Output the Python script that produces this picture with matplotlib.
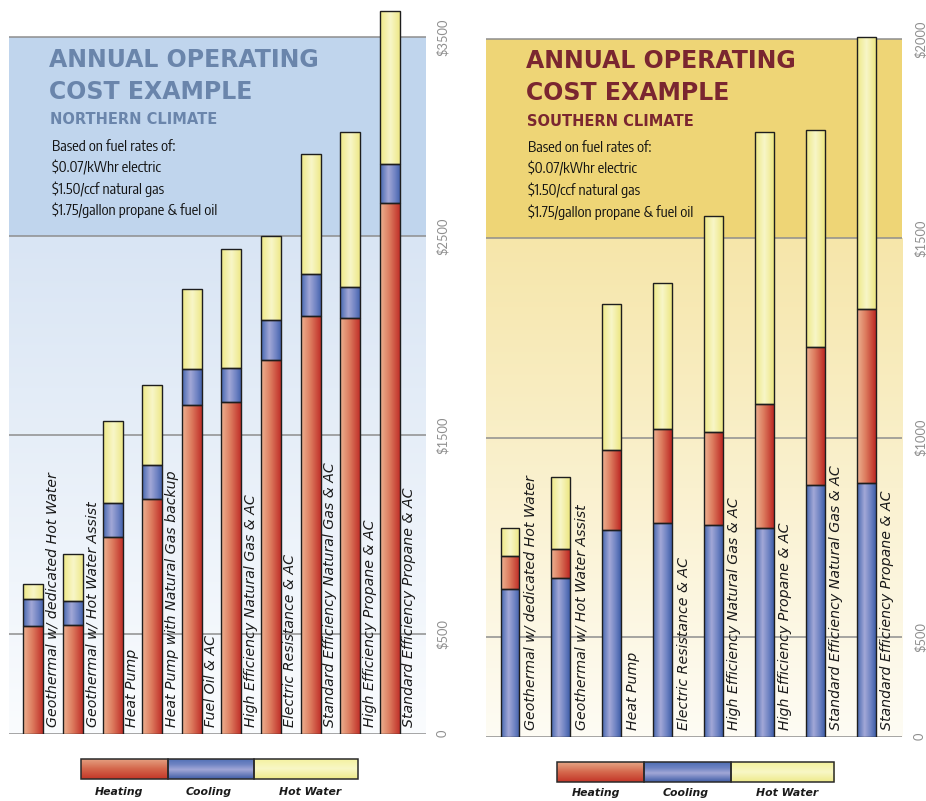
import numpy as np
import matplotlib
matplotlib.use("Agg")
import matplotlib.pyplot as plt
from matplotlib.colors import to_rgb
from matplotlib.patches import Rectangle
from matplotlib import font_manager as fm

plt.rcParams['text.parse_math'] = False

# ---------------- data ----------------
north_categories = [
    "Geothermal w/ dedicated Hot Water",
    "Geothermal w/ Hot Water Assist",
    "Heat Pump",
    "Heat Pump with Natural Gas backup",
    "Fuel Oil & AC",
    "High Efficiency Natural Gas & AC",
    "Electric Resistance & AC",
    "Standard Efficiency Natural Gas & AC",
    "High Efficiency Propane & AC",
    "Standard Efficiency Propane & AC",
]
north_heating = [542, 547, 986, 1177, 1653, 1665, 1876, 2101, 2090, 2666]
north_cooling = [133, 118, 174, 171, 181, 173, 201, 210, 155, 199]
north_hot_water = [75, 236, 410, 403, 399, 600, 422, 601, 779, 769]
north_ticks = [0, 500, 1500, 2500, 3500]
north_tick_labels = ["0", "$500", "$1500", "$2500", "$3500"]

south_categories = [
    "Geothermal w/ dedicated Hot Water",
    "Geothermal w/ Hot Water Assist",
    "Heat Pump",
    "Electric Resistance & AC",
    "High Efficiency Natural Gas & AC",
    "High Efficiency Propane & AC",
    "Standard Efficiency Natural Gas & AC",
    "Standard Efficiency Propane & AC",
]
south_cooling = [621, 648, 769, 786, 780, 773, 881, 886]
south_heating = [83, 72, 199, 237, 234, 312, 346, 437]
south_hot_water = [69, 181, 367, 365, 541, 681, 546, 682]
south_ticks = [0, 500, 1000, 1500, 2000]
south_tick_labels = ["0", "$500", "$1000", "$1500", "$2000"]

title_lines = ["ANNUAL OPERATING", "COST EXAMPLE"]
north_subtitle = "NORTHERN CLIMATE"
south_subtitle = "SOUTHERN CLIMATE"
fuel_lines = ["Based on fuel rates of:", "$0.07/kWhr electric",
              "$1.50/ccf natural gas", "$1.75/gallon propane & fuel oil"]
legend_labels = ["Heating", "Cooling", "Hot Water"]

# ---------------- fonts ----------------
def pick_condensed():
    entries = fm.fontManager.ttflist
    names = {e.name for e in entries}
    if "Liberation Sans Narrow" in names:
        return fm.FontProperties(family="Liberation Sans Narrow", size=11)
    for e in entries:
        n = e.name.lower()
        if ("narrow" in n or "condensed" in n) and "sans" in n and e.style == "normal" \
                and str(e.weight) in ("400", "normal", "regular", "book"):
            return fm.FontProperties(fname=e.fname, size=10.5)
    for e in entries:
        if e.stretch in ("condensed", "semi-condensed", "extra-condensed") and e.style == "normal" \
                and str(e.weight) in ("400", "normal", "regular", "book"):
            return fm.FontProperties(fname=e.fname, size=10.5)
    return fm.FontProperties(family="Liberation Sans", size=9.6)


fuel_font = pick_condensed()

# ---------------- styling ----------------
W, H = 926, 801
fig = plt.figure(figsize=(W / 100, H / 100), dpi=100)
fig.patch.set_facecolor("white")


def px_rect(x0, y_top, x1, y_bot):
    return [x0 / W, 1 - y_bot / H, (x1 - x0) / W, (y_bot - y_top) / H]


def ramp(stops, n=64):
    pos = [p for p, _ in stops]
    cols = np.array([to_rgb(c) for _, c in stops])
    t = np.linspace(0, 1, n)
    return np.stack([np.interp(t, pos, cols[:, i]) for i in range(3)], axis=-1)


bar_grad = {
    "heat": ramp([(0, "#EDB291"), (0.45, "#DD7C5F"), (1, "#BD2924")])[None, :, :],
    "cool": ramp([(0, "#4567AF"), (0.4, "#A3A8D7"), (0.75, "#6B80C1"), (1, "#3F5EA8")])[None, :, :],
    "hot": ramp([(0, "#EEE986"), (0.5, "#F8F6C8"), (1, "#EDE782")])[None, :, :],
}
bar_mid = {"heat": "#D86A50", "cool": "#6D82C2", "hot": "#F3F0A8"}
leg_grad = {
    "heat": ramp([(0, "#C33628"), (0.5, "#D5684D"), (1, "#E6A686")])[:, None, :],
    "cool": ramp([(0, "#3F5DA6"), (0.45, "#A2A7D7"), (0.7, "#6F84C3"), (1, "#4E6EB4")])[:, None, :],
    "hot": ramp([(0, "#EEEA8A"), (0.5, "#F8F7C6"), (1, "#F4F19C")])[:, None, :],
}


def fwd(v):
    v = np.asarray(v, dtype=float)
    return np.where(v <= 500, v, 2 * v - 500)


def inv(u):
    u = np.asarray(u, dtype=float)
    return np.where(u <= 500, u, (u + 500) / 2)


def draw_chart(ax, categories, segments, width, xlim, ylim, ticks, tick_labels,
               band_split, band_top, low_bot, low_top, band_color, label_off, tick_pad):
    n = len(categories)
    x = np.arange(n)
    ax.set_xlim(*xlim)
    ax.set_ylim(*ylim)
    ax.set_autoscale_on(False)
    ax.set_facecolor("white")
    for s in ax.spines.values():
        s.set_visible(False)

    def yfrac(v):
        return ax.transAxes.inverted().transform(ax.transData.transform((0, v)))[1]

    f0, f1, f2 = yfrac(0), yfrac(band_split), yfrac(band_top)
    low = ramp([(0, low_bot), (1, low_top)], 128)[:, None, :]
    ax.imshow(low, extent=(0, 1, f0, f1), transform=ax.transAxes, origin="lower",
              aspect="auto", zorder=0, interpolation="bilinear")
    ax.add_patch(Rectangle((0, f1), 1, f2 - f1, transform=ax.transAxes,
                           facecolor=band_color, edgecolor="none", zorder=0))
    ax.set_xlim(*xlim)
    ax.set_ylim(*ylim)

    for t in ticks:
        ax.axhline(t, color="#8E8E8E", lw=1.1, zorder=1)

    bottom = np.zeros(n)
    for vals, kind in segments:
        vals = np.asarray(vals, dtype=float)
        bars = ax.bar(x, vals, width, bottom=bottom, color=bar_mid[kind],
                      edgecolor="none", zorder=2)
        for rect in bars:
            ax0 = (rect.get_x() - xlim[0]) / (xlim[1] - xlim[0])
            ax1 = (rect.get_x() + rect.get_width() - xlim[0]) / (xlim[1] - xlim[0])
            im = ax.imshow(bar_grad[kind], extent=(ax0, ax1, 0, 1), transform=ax.transAxes,
                           aspect="auto", zorder=2.5, interpolation="bilinear")
            im.set_clip_path(rect)
        ax.bar(x, vals, width, bottom=bottom, facecolor="none",
               edgecolor="#1E1E1E", linewidth=1.0, zorder=3)
        bottom = bottom + vals
    ax.set_xlim(*xlim)
    ax.set_ylim(*ylim)

    for xi, lab in zip(x, categories):
        ax.annotate(lab, xy=(xi + label_off, 0), xytext=(0, 5), textcoords="offset points",
                    rotation=90, ha="center", va="bottom", fontsize=10.2,
                    fontstyle="italic", color="#1A1A1A", family="DejaVu Sans", zorder=4)

    ax.set_xticks([])
    ax.yaxis.tick_right()
    ax.set_yticks(ticks)
    ax.set_yticklabels(tick_labels, rotation=90, va="center")
    ax.tick_params(axis="y", length=0, pad=tick_pad, labelsize=9.3, labelcolor="#8F8F8F")
    for lab in ax.get_yticklabels():
        lab.set_family("Lato")
        lab.set_fontweight("normal")


# ---- northern (left) chart ----
axN = fig.add_axes(px_rect(9.3, 0, 426, 733.5))
draw_chart(axN, north_categories,
           [(north_heating, "heat"), (north_cooling, "cool"), (north_hot_water, "hot")],
           width=0.505, xlim=(-0.606, 9.914), ylim=(0, 3688),
           ticks=north_ticks, tick_labels=north_tick_labels,
           band_split=2500, band_top=3500, low_bot="#FAFCFE", low_top="#D9E5F4",
           band_color="#C0D5ED", label_off=0.49, tick_pad=7.5)

# ---- southern (right) chart ----
axS = fig.add_axes(px_rect(486, 0, 902.3, 736.7))
axS.set_yscale("function", functions=(fwd, inv))
draw_chart(axS, south_categories,
           [(south_cooling, "cool"), (south_heating, "heat"), (south_hot_water, "hot")],
           width=0.373, xlim=(-0.4715, 7.707), ylim=(0, 2098),
           ticks=south_ticks, tick_labels=south_tick_labels,
           band_split=1500, band_top=2000, low_bot="#FEFCF4", low_top="#F6E6AA",
           band_color="#EED576", label_off=0.41, tick_pad=8.5)

# ---- titles and notes ----
def ftext(xp, yp, s, **kw):
    fig.text(xp / W, 1 - yp / H, s, va="baseline", ha="left", **kw)


for (x0, fx, base, col, sub) in [(49, 52, 0, "#6A85AB", north_subtitle),
                                 (526, 528, 1, "#7A2630", south_subtitle)]:
    ftext(x0, 67 + base, title_lines[0], fontsize=17, fontweight="bold", color=col,
          family="DejaVu Sans")
    ftext(x0, 99 + base, title_lines[1], fontsize=17, fontweight="bold", color=col,
          family="DejaVu Sans")
    ftext(x0 + 1, 124.5 + base, sub, fontsize=10.5, fontweight="bold", color=col,
          family="DejaVu Sans")
    for i, line in enumerate(fuel_lines):
        ftext(fx, 151 + base + i * 21.5, line, fontproperties=fuel_font, color="#111111")

# ---- legends ----
def draw_legend(x0, x1, x2, x3, ytop, ybot, label_y, label_x):
    lax = fig.add_axes(px_rect(x0, ytop, x3, ybot))
    lax.set_xlim(x0, x3)
    lax.set_ylim(0, 1)
    lax.axis("off")
    for (a, b), kind in zip([(x0, x1), (x1, x2), (x2, x3)], ["heat", "cool", "hot"]):
        lax.imshow(leg_grad[kind], extent=(a, b, 0, 1), origin="lower", aspect="auto",
                   interpolation="bilinear", zorder=1)
        lax.add_patch(Rectangle((a, 0), b - a, 1, facecolor="none", edgecolor="#2A2A2A",
                                lw=1.1, zorder=2, clip_on=False))
    lax.set_xlim(x0, x3)
    lax.set_ylim(0, 1)
    for lx, lab in zip(label_x, legend_labels):
        fig.text(lx / W, 1 - label_y / H, lab, ha="center", va="center", fontsize=7.8,
                 fontstyle="italic", fontweight="bold", color="#1A1A1A", family="DejaVu Sans")


draw_legend(80.7, 168.3, 254.3, 357.7, 759, 779.3, 791.7, [119, 209, 310])
draw_legend(557.3, 644.3, 730.7, 834.3, 761.7, 781.7, 793.3, [595.7, 685.7, 786.7])

fig.savefig("out.png", dpi=100)
